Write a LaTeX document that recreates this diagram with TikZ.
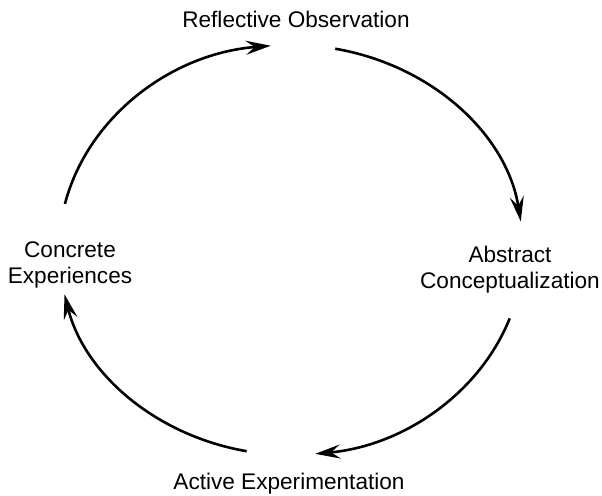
\documentclass[tikz,border=0pt]{standalone}
\usepackage{fontspec}
\setmainfont{Liberation Sans}
\usetikzlibrary{arrows.meta,calc}

\begin{document}
\begin{tikzpicture}[x=.5pt,y=.5pt,
  stage/.style={inner sep=0pt,align=center,font=\fontsize{11.3}{13}\selectfont},
  cycarc/.style={line width=1.3pt,black,-{Stealth[length=12.5pt,width=7pt,inset=4.5pt]}}]
\useasboundingbox (0,0) rectangle (602,496);
\coordinate (ctr) at (291,246);
\node[stage,anchor=base] (refl) at (296,468) {Reflective Observation};
\node[stage] (abstr) at (510,226) {Abstract\\Conceptualization};
\node[stage] (concr) at (70,231) {Concrete\\Experiences};
\node[stage,anchor=base] (activ) at (289,6) {Active Experimentation};
\coordinate (s1) at ($(ctr)+(167:116pt and 102.5pt)$);
\coordinate (s2) at ($(ctr)+(79:116pt and 102.5pt)$);
\coordinate (s3) at ($(ctr)+(-19.5:116pt and 102.5pt)$);
\coordinate (s4) at ($(ctr)+(-101:116pt and 102.5pt)$);
\draw[cycarc] (s1) arc[start angle=167,end angle=95,x radius=116pt,y radius=102.5pt];
\draw[cycarc] (s2) arc[start angle=79,end angle=8,x radius=116pt,y radius=102.5pt];
\draw[cycarc] (s3) arc[start angle=-19.5,end angle=-84,x radius=116pt,y radius=102.5pt];
\draw[cycarc] (s4) arc[start angle=-101,end angle=-167.5,x radius=116pt,y radius=102.5pt];
\end{tikzpicture}
\end{document}
